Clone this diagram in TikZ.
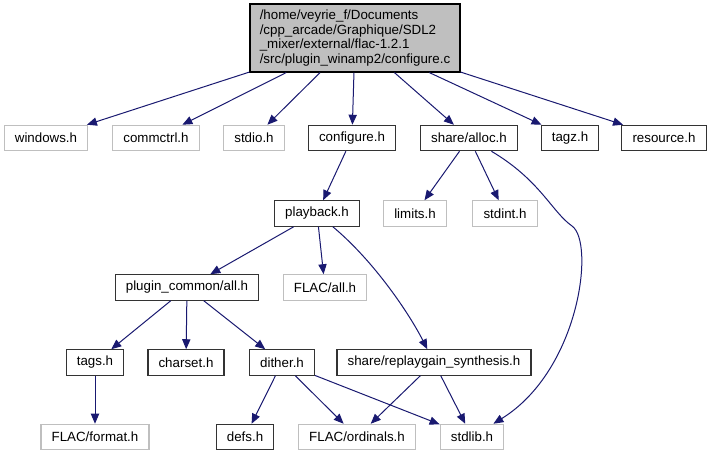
\documentclass[tikz,border=0pt]{standalone}
\usepackage{fontspec}
\setmainfont{Liberation Sans}
\usepackage{tikz}
\usepackage{xcolor}
\usetikzlibrary{arrows.meta}
\definecolor{edgeblue}{HTML}{191970}
\definecolor{extgray}{HTML}{BFBFBF}
\tikzset{
  docbox/.style={
    draw=black!80,
    fill=white,
    line width=0.9pt,
    inner xsep=8pt,
    inner ysep=0pt,
    minimum height=19pt,
    font=\fontsize{10}{11}\selectfont
  },
  extbox/.style={
    draw=extgray,
    fill=white,
    line width=0.9pt,
    inner xsep=8pt,
    inner ysep=0pt,
    minimum height=19pt,
    font=\fontsize{10}{11}\selectfont
  },
  rootbox/.style={
    draw=black,
    fill=extgray,
    line width=0.9pt,
    align=left,
    inner xsep=5pt,
    minimum width=157.5pt,
    minimum height=51pt,
    font=\fontsize{10}{10.8}\selectfont
  },
  deparrow/.style={-{Triangle[length=7.5pt,width=6.2pt]}, line width=0.75pt, draw=edgeblue}
}

\begin{document}
\begin{tikzpicture}[x=0.75pt,y=-0.75pt]
\useasboundingbox (0,0) rectangle (712,456);

\node[rootbox] (configurec) at (355,38) {/home/veyrie\_f/Documents\\/cpp\_arcade/Graphique/SDL2\\\_mixer/external/flac-1.2.1\\/src/plugin\_winamp2/configure.c};

% first row
\node[extbox] (windows) at (46,138) {windows.h};
\node[extbox] (commctrl) at (156,138) {commctrl.h};
\node[extbox] (stdio) at (254,138) {stdio.h};
\node[docbox] (configureh) at (352,138) {configure.h};
\node[docbox] (alloc) at (469,138) {share/alloc.h};
\node[docbox] (tagz) at (570,138) {tagz.h};
\node[docbox] (resource) at (664,138) {resource.h};

% second row
\node[docbox] (playback) at (317,213.5) {playback.h};
\node[extbox] (limits) at (415,213.5) {limits.h};
\node[extbox] (stdint) at (505,213.5) {stdint.h};

% third row
\node[docbox] (plugincommon) at (187,287.5) {plugin\_common/all.h};
\node[extbox] (flacall) at (325,287.5) {FLAC/all.h};

% fourth row
\node[docbox] (tags) at (95,362.5) {tags.h};
\node[docbox] (charset) at (186,362.5) {charset.h};
\node[docbox] (dither) at (282,362.5) {dither.h};
\node[docbox] (replaygain) at (434,362.5) {share/replaygain\_synthesis.h};

% fifth row
\node[extbox] (flacformat) at (95,437) {FLAC/format.h};
\node[docbox] (defs) at (245,437) {defs.h};
\node[extbox] (ordinals) at (357,437) {FLAC/ordinals.h};
\node[extbox] (stdlib) at (472,437) {stdlib.h};

\draw[deparrow] (configurec) -- (windows);
\draw[deparrow] (configurec) -- (commctrl);
\draw[deparrow] (configurec) -- (stdio);
\draw[deparrow] (configurec) -- (configureh);
\draw[deparrow] (configurec) -- (alloc);
\draw[deparrow] (configurec) -- (tagz);
\draw[deparrow] (configurec) -- (resource);
\draw[deparrow] (configureh) -- (playback);
\draw[deparrow] (alloc) -- (limits);
\draw[deparrow] (alloc) -- (stdint);
\draw[deparrow] (alloc) .. controls (540,180) and (552,212) .. (572,226)
  .. controls (595,242) and (580,370) .. (stdlib);
\draw[deparrow] (playback) -- (plugincommon);
\draw[deparrow] (playback) -- (flacall);
\draw[deparrow] (playback) .. controls (375,262) and (410,315) .. (replaygain);
\draw[deparrow] (plugincommon) -- (tags);
\draw[deparrow] (plugincommon) -- (charset);
\draw[deparrow] (plugincommon) -- (dither);
\draw[deparrow] (tags) -- (flacformat);
\draw[deparrow] (dither) -- (defs);
\draw[deparrow] (dither) -- (ordinals);
\draw[deparrow] (dither) -- (stdlib);
\draw[deparrow] (replaygain) -- (ordinals);
\draw[deparrow] (replaygain) -- (stdlib);
\end{tikzpicture}
\end{document}
